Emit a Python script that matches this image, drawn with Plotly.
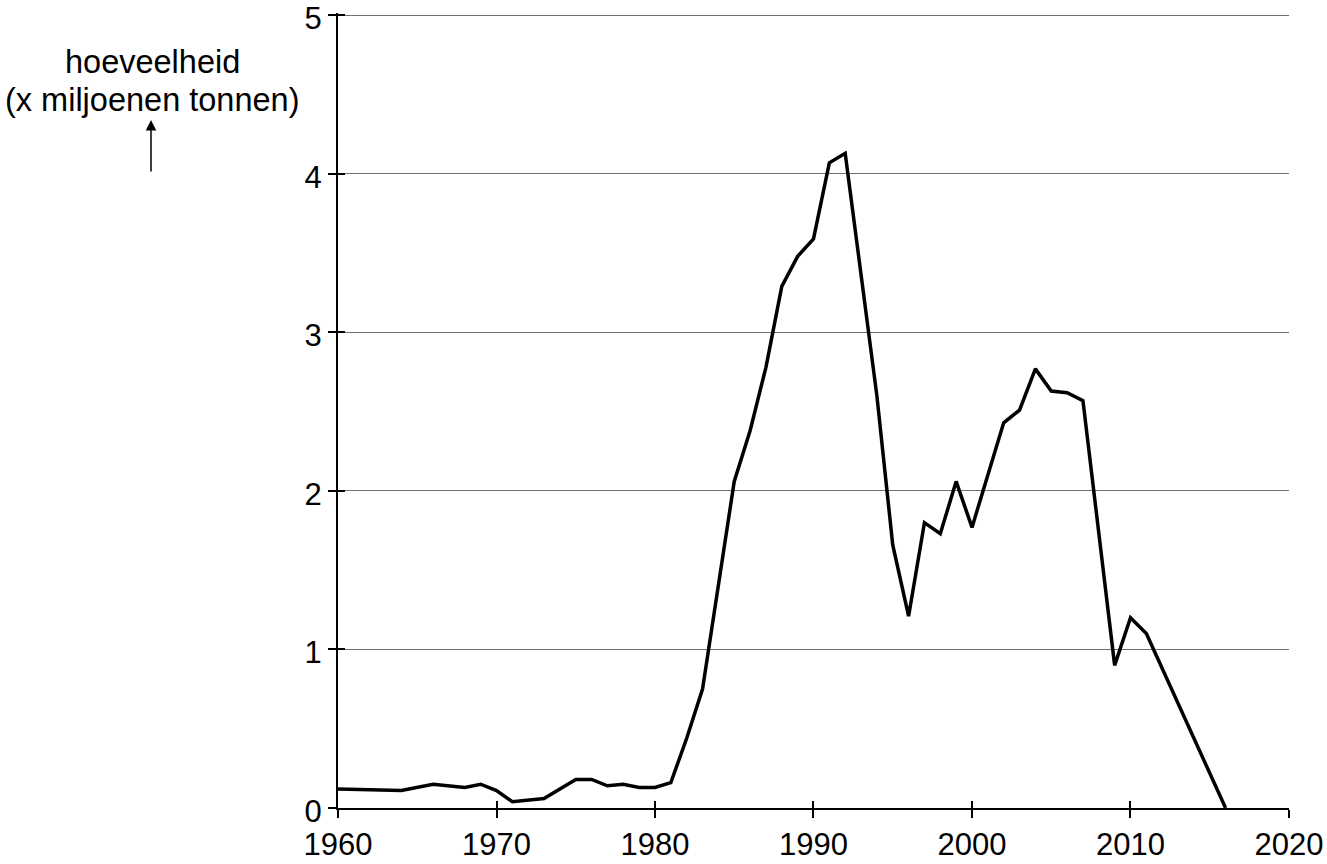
import plotly.graph_objects as go

years = [1960, 1964, 1966, 1968, 1969, 1970, 1971, 1973, 1975, 1976, 1977, 1978,
         1979, 1980, 1981, 1982, 1983, 1984, 1985, 1986, 1987, 1988, 1989, 1990,
         1991, 1992, 1994, 1995, 1996, 1997, 1998, 1999, 2000, 2002, 2003, 2004,
         2005, 2006, 2007, 2009, 2010, 2011, 2016]
amount = [0.12, 0.11, 0.15, 0.13, 0.15, 0.11, 0.04, 0.06, 0.18, 0.18, 0.14, 0.15,
          0.13, 0.13, 0.16, 0.44, 0.75, 1.40, 2.06, 2.38, 2.78, 3.29, 3.48, 3.59,
          4.07, 4.13, 2.60, 1.66, 1.21, 1.80, 1.73, 2.06, 1.77, 2.43, 2.51, 2.77,
          2.63, 2.62, 2.57, 0.90, 1.20, 1.10, 0.00]

x_ticks = [1960, 1970, 1980, 1990, 2000, 2010, 2020]
y_ticks = [0, 1, 2, 3, 4, 5]
y_title_lines = ["hoeveelheid", "(x miljoenen tonnen)"]

FONT = "Liberation Sans, Arial, sans-serif"
TICK_SIZE = 31
TITLE_SIZE = 32.5
X_RANGE = [1960, 2020.001]
Y_RANGE = [0, 5.015]

W, H = 1327, 864
ML, MR, MB = 338, 38, 56
PW = W - ML - MR
UNIT = (H - MB - 15.5) / 5.0
PH = Y_RANGE[1] * UNIT
MT = H - MB - PH

fig = go.Figure()
fig.add_trace(go.Scatter(x=years, y=amount, mode="lines",
                         line=dict(color="black", width=3.5), showlegend=False,
                         hoverinfo="x+y"))
# invisible trace for the overlay axes (inner half of the crossing ticks)
fig.add_trace(go.Scatter(x=[1960], y=[0], xaxis="x2", yaxis="y2", mode="markers",
                         marker=dict(opacity=0), showlegend=False, hoverinfo="skip"))

fig.update_layout(
    template="none",
    width=W, height=H,
    margin=dict(l=ML, r=MR, t=MT, b=MB, pad=0),
    paper_bgcolor="white", plot_bgcolor="white",
    font=dict(family=FONT, size=TICK_SIZE, color="black"),
    xaxis=dict(range=X_RANGE, tickvals=x_ticks, ticks="outside", ticklen=8,
               tickwidth=2, tickcolor="black", showline=True, linecolor="black",
               linewidth=2, showgrid=False, zeroline=False, automargin=False,
               ticklabeloverflow="allow",
               tickfont=dict(size=TICK_SIZE, family=FONT)),
    yaxis=dict(range=Y_RANGE, tickvals=y_ticks, ticks="outside", ticklen=8,
               tickwidth=2, tickcolor="black", showline=True, linecolor="black",
               linewidth=2, showgrid=True, gridcolor="#6f6f6f", gridwidth=1,
               zeroline=False, automargin=False, ticklabeloverflow="allow",
               tickfont=dict(size=TICK_SIZE, family=FONT), ticklabelstandoff=0,
               ticklabelshift=3),
    xaxis2=dict(range=X_RANGE, tickvals=x_ticks, ticks="inside", ticklen=7,
                tickwidth=2, tickcolor="black", showticklabels=False,
                showgrid=False, zeroline=False, overlaying="x", anchor="y2",
                automargin=False),
    yaxis2=dict(range=Y_RANGE, tickvals=y_ticks, ticks="inside", ticklen=7,
                tickwidth=2, tickcolor="black", showticklabels=False,
                showgrid=False, zeroline=False, overlaying="y", anchor="x2",
                automargin=False),
)


def px(sx):
    return (sx - ML) / PW


def py(sy):
    return (H - MB - sy) / PH


fig.add_annotation(xref="paper", yref="paper", x=px(152), y=py(62),
                   text=y_title_lines[0], showarrow=False, xanchor="center", yanchor="middle",
                   font=dict(size=TITLE_SIZE, family=FONT))
fig.add_annotation(xref="paper", yref="paper", x=px(152), y=py(100),
                   text=y_title_lines[1], showarrow=False, xanchor="center", yanchor="middle",
                   font=dict(size=TITLE_SIZE, family=FONT))
fig.add_annotation(xref="paper", yref="paper", axref="pixel", ayref="pixel",
                   x=px(151), y=py(120), ax=0, ay=53,
                   text="", showarrow=True, arrowhead=2, arrowsize=1.4, arrowwidth=1.5,
                   arrowcolor="black")

# remove the browser's default 8px body margin so the figure fills the window
fig.write_html("out.html", config={"displayModeBar": False},
               post_script="document.body.style.margin='0';document.body.style.overflow='hidden';")
